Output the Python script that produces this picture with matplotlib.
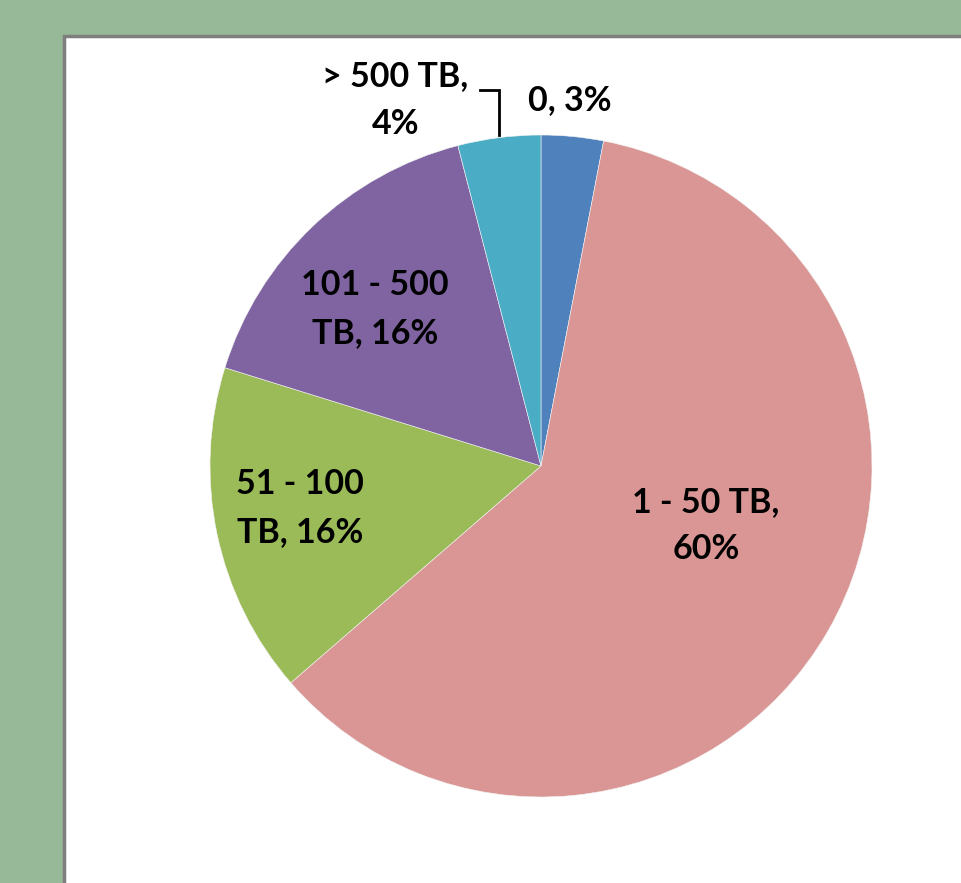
import numpy as np
import matplotlib
matplotlib.use("Agg")
import matplotlib.pyplot as plt
from matplotlib.patches import Rectangle

# ---- data ----
categories = ["0", "1 - 50 TB", "51 - 100 TB", "101 - 500 TB", "> 500 TB"]
values = [3, 60, 16, 16, 4]
label_texts = ["0, 3%", "1 - 50 TB,\n60%", "51 - 100\nTB, 16%", "101 - 500\nTB, 16%", "> 500 TB,\n4%"]
colors = ["#4F81BD", "#D99694", "#9BBB59", "#8064A2", "#4BACC6"]

# ---- layout ----
W, H = 962, 883
fig = plt.figure(figsize=(W / 100, H / 100), dpi=100)
fig.patch.set_facecolor("#97B997")

ax = fig.add_axes([0, 0, 1, 1])
ax.set_zorder(1)
ax.patch.set_alpha(0)

# white panel with grey border
panel = Rectangle((64, H - 36), 1000, -1000,
                  facecolor="white", edgecolor="#7F7F7F", linewidth=2.5, zorder=0)
ax.add_patch(panel)

cx, cy, R = 541, H - 466, 331
wedges, _ = ax.pie(values, colors=colors, startangle=90, counterclock=False,
                   center=(cx, cy), radius=R, frame=True,
                   wedgeprops=dict(edgecolor="#F4F4F4", linewidth=0.4, zorder=2))
ax.set_xlim(0, W)
ax.set_ylim(0, H)
ax.set_aspect("equal")
ax.axis("off")

# label placement: (distance as fraction of R, angle clockwise from top in degrees)
label_pos = [(1.11, 4.5), (0.53, 109.8), (0.74, 260.1), (0.69, 313.4), (1.19, 338.3)]
font = dict(family=["Lato", "DejaVu Sans"], fontsize=24.5, fontweight="bold",
            color="black", ha="center", va="center", linespacing=1.6, zorder=4)
for txt, (d, a) in zip(label_texts, label_pos):
    t = np.deg2rad(a)
    ax.text(cx + d * R * np.sin(t), cy + d * R * np.cos(t), txt, **font)

# leader line for the small "> 500 TB" slice
w = wedges[4]
mid = np.deg2rad((w.theta1 + w.theta2) / 2)
ex, ey = cx + R * np.cos(mid), cy + R * np.sin(mid)
ax.plot([ex, ex, ex - 19], [ey + 3, ey + 48, ey + 48], color="black", lw=2,
        solid_joinstyle="miter", zorder=5)

fig.savefig("out.png", dpi=100, facecolor=fig.get_facecolor())
